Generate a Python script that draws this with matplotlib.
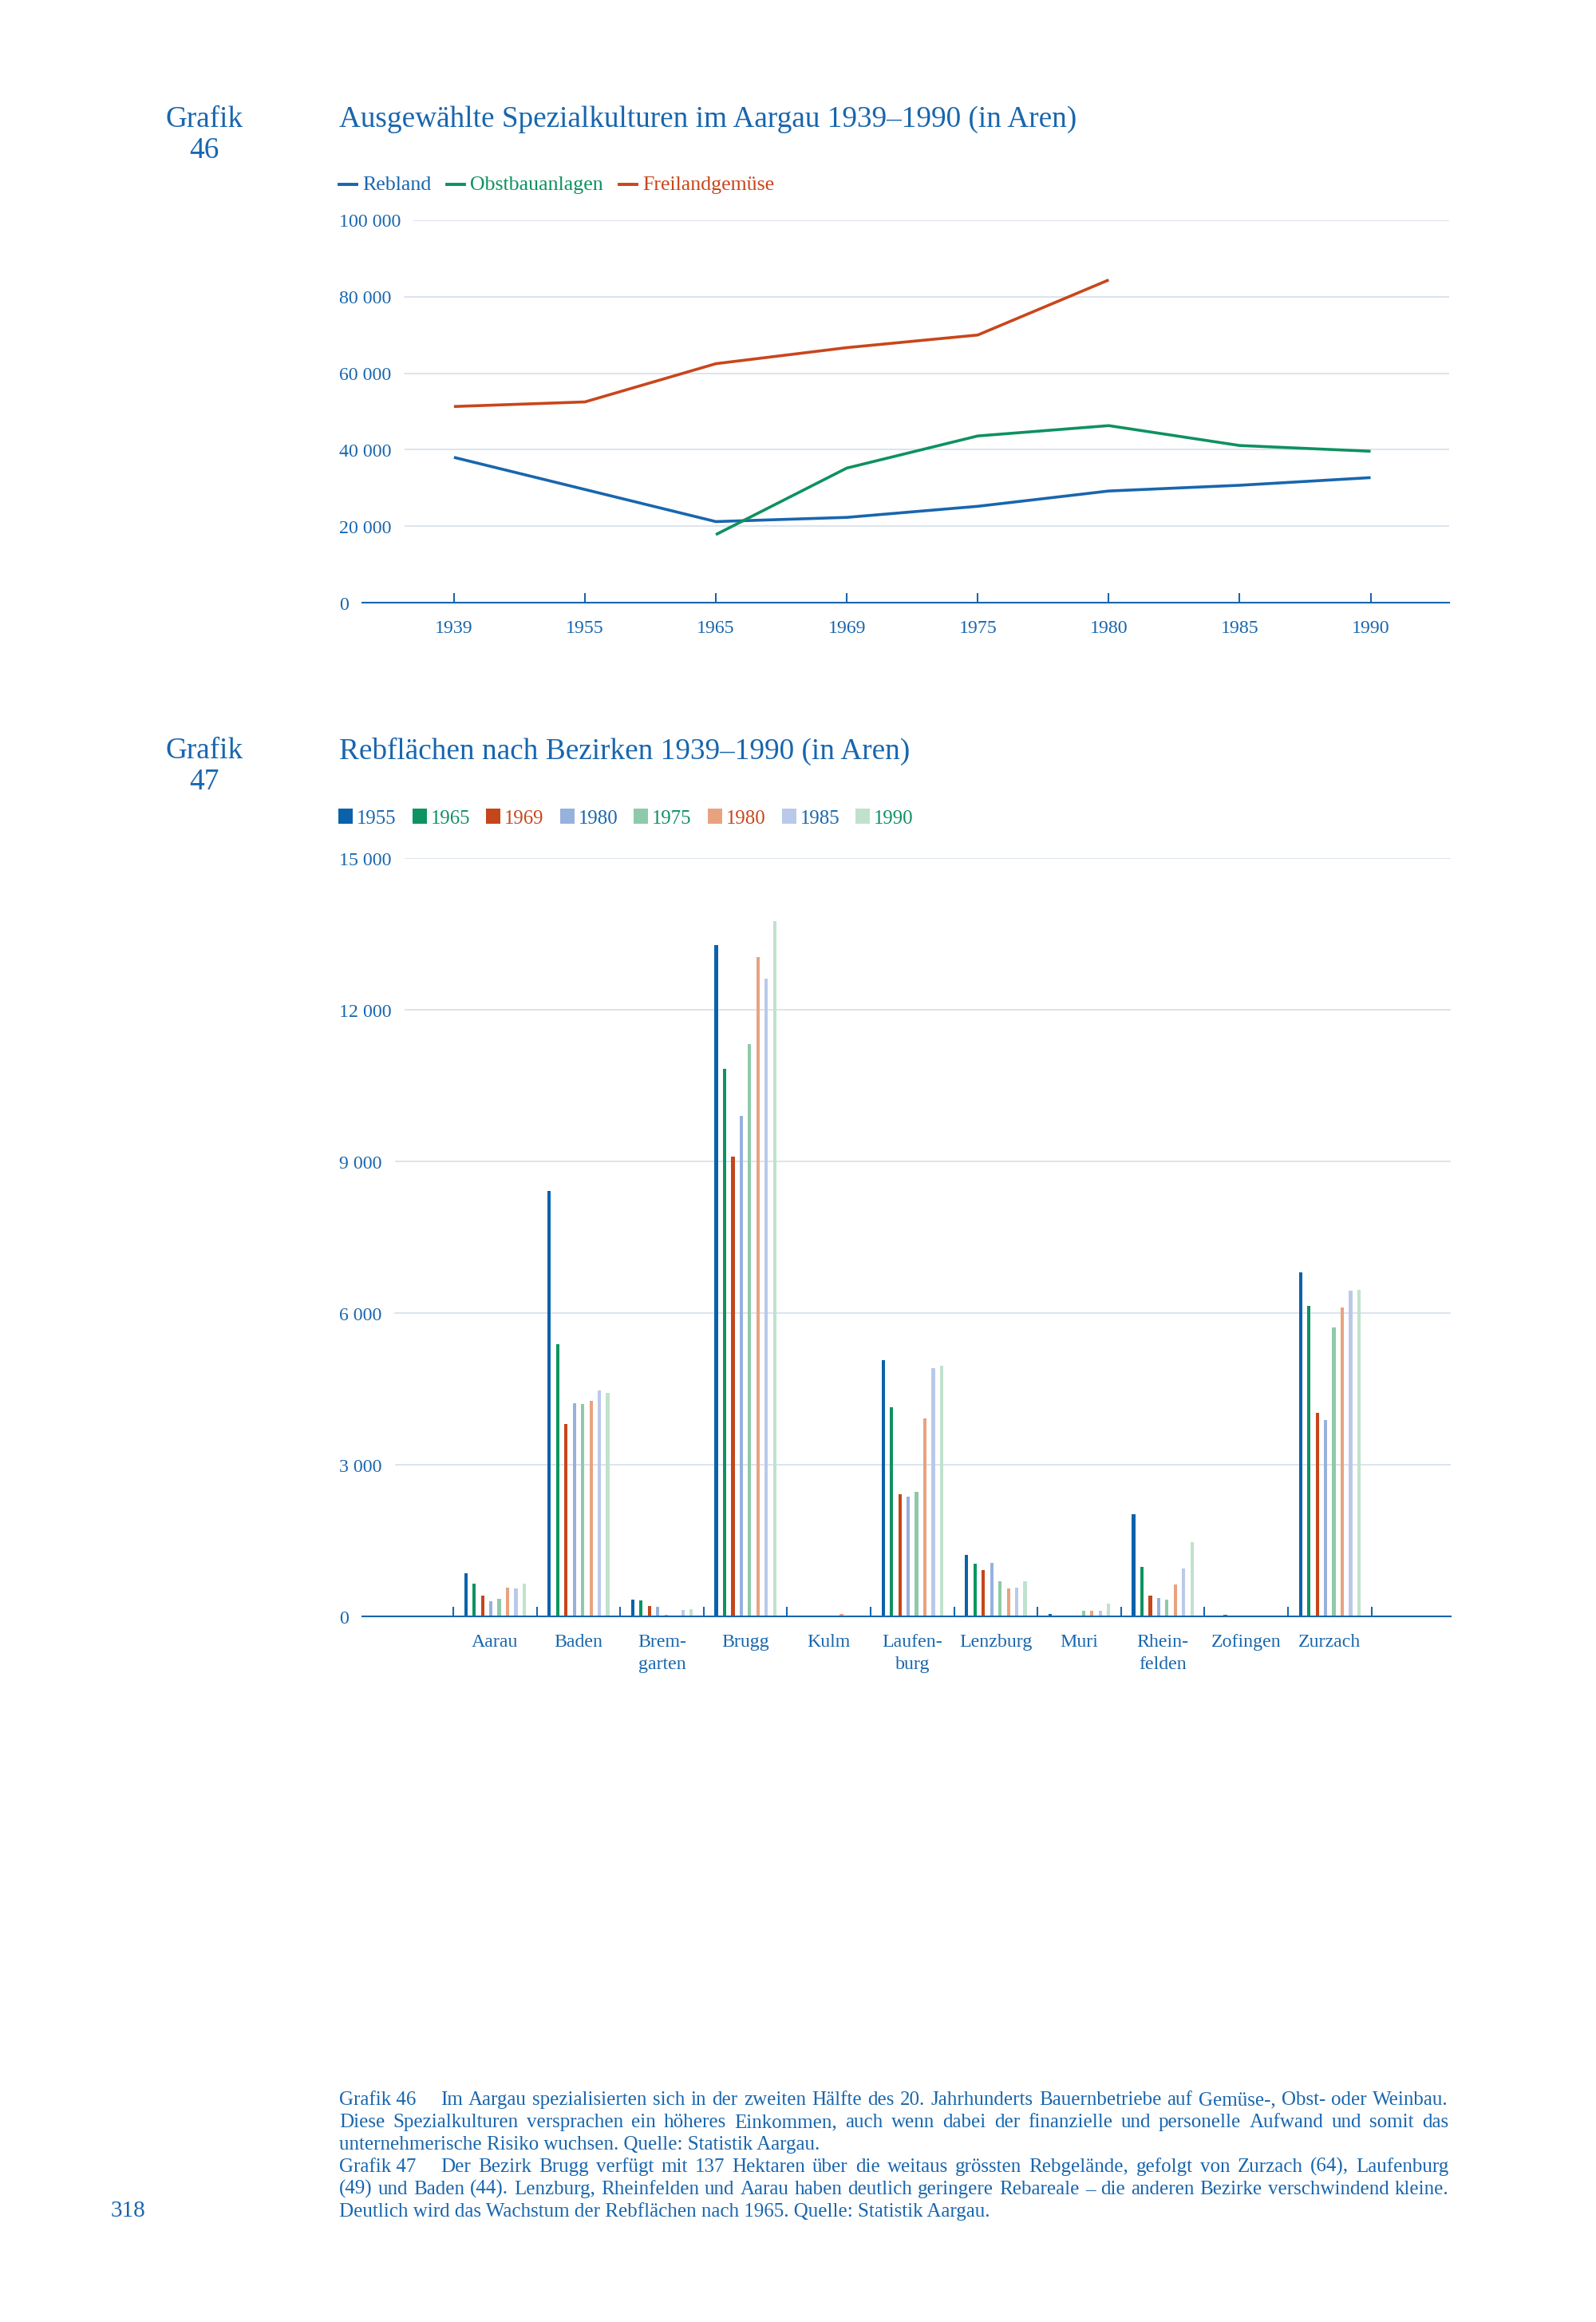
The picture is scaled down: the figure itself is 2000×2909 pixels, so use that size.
import matplotlib
matplotlib.use('Agg')
import matplotlib.pyplot as plt
import matplotlib.transforms as mtransforms
from matplotlib.font_manager import FontProperties
from matplotlib.lines import Line2D
from matplotlib.patches import Rectangle
import numpy as np

# ---------------- data ----------------
years_top = ['1939', '1955', '1965', '1969', '1975', '1980', '1985', '1990']
rebland = [38000, 29600, 21200, 22300, 25200, 29200, 30700, 32700]
obstbau = [np.nan, np.nan, 17800, 35200, 43600, 46300, 41100, 39600]
freiland = [51300, 52500, 62500, 66700, 70000, 84400, np.nan, np.nan]
top_series_names = ['Rebland', 'Obstbauanlagen', 'Freilandgemüse']
top_yticks = [0, 20000, 40000, 60000, 80000, 100000]
top_yticklabels = ['0', '20 000', '40 000', '60 000', '80 000', '100 000']

districts = ['Aarau', 'Baden', 'Brem-\ngarten', 'Brugg', 'Kulm', 'Laufen-\nburg',
             'Lenzburg', 'Muri', 'Rhein-\nfelden', 'Zofingen', 'Zurzach']
bar_labels = ['1955', '1965', '1969', '1980', '1975', '1980', '1985', '1990']
v1955 = [860, 8420, 330, 13280, 0, 5070, 1210, 50, 2020, 0, 6810]
v1965 = [640, 5390, 310, 10830, 5, 4140, 1050, 0, 980, 25, 6150]
v1969 = [410, 3800, 210, 9100, 0, 2420, 920, 0, 410, 0, 4030]
v1980a = [300, 4220, 190, 9900, 0, 2370, 1065, 0, 370, 10, 3880]
v1975 = [350, 4200, 25, 11320, 0, 2460, 700, 110, 330, 10, 5710]
v1980b = [570, 4270, 0, 13040, 45, 3910, 560, 110, 630, 10, 6110]
v1985 = [550, 4470, 120, 12610, 0, 4910, 575, 110, 940, 10, 6440]
v1990 = [640, 4420, 140, 13760, 0, 4960, 700, 260, 1470, 10, 6460]
bar_yticks = [0, 3000, 6000, 9000, 12000, 15000]
bar_yticklabels = ['0', '3 000', '6 000', '9 000', '12 000', '15 000']

caption_lines = [
    ("Grafik 46", "Im Aargau spezialisierten sich in der zweiten Hälfte des 20. Jahrhunderts Bauernbetriebe auf Gemüse-, Obst- oder Weinbau.", True),
    (None, "Diese Spezialkulturen versprachen ein höheres Einkommen, auch wenn dabei der finanzielle und personelle Aufwand und somit das", True),
    (None, "unternehmerische Risiko wuchsen. Quelle: Statistik Aargau.", False),
    ("Grafik 47", "Der Bezirk Brugg verfügt mit 137 Hektaren über die weitaus grössten Rebgelände, gefolgt von Zurzach (64), Laufenburg", True),
    (None, "(49) und Baden (44). Lenzburg, Rheinfelden und Aarau haben deutlich geringere Rebareale – die anderen Bezirke verschwindend kleine.", True),
    (None, "Deutlich wird das Wachstum der Rebflächen nach 1965. Quelle: Statistik Aargau.", False),
]

# ---------------- style ----------------
W, H = 2000, 2909
DPI = 200
FONT = 'Liberation Serif'
BLUE = '#1866ae'
GREEN = '#0e9160'
ORANGE = '#c9461b'
GRID = '#d6dfea'
bar_colors = ['#0b62ab', '#0d9460', '#c5461a', '#97b1dd', '#8ecaa9', '#e9a27f', '#bac9ea', '#c0e2cd']
bar_text_colors = [BLUE, GREEN, ORANGE, BLUE, GREEN, ORANGE, BLUE, GREEN]

TITLE_SIZE = 13.4
LEG_SIZE = 9.3
BLEG_SIZE = 8.9
TICK_SIZE = 8.6
CAP_SIZE = 9.0

fig = plt.figure(figsize=(W / DPI, H / DPI), dpi=DPI)
renderer = fig.canvas.get_renderer()


def fx(x):
    return x / W


def fy(y):
    return 1 - y / H


def text_w(s, size):
    fp = FontProperties(family=FONT, size=size)
    w, h, d = renderer.get_text_width_height_descent(s, fp, ismath=False)
    return w


def put(x, y, s, size, color=BLUE, ha='left', va='baseline'):
    return fig.text(fx(x), fy(y), s, fontsize=size, color=color, family=FONT, ha=ha, va=va)


def style_axes(ax, ticks, left_px, right_px, yticks, yticklabels, ymin, ymax):
    for s in ['top', 'right', 'left']:
        ax.spines[s].set_visible(False)
    ax.spines['bottom'].set_color(BLUE)
    ax.spines['bottom'].set_linewidth(0.75)
    ax.set_xticks(ticks)
    ax.set_xticklabels([])
    ax.tick_params(axis='x', direction='in', length=4.2, width=0.75, color=BLUE)
    ax.set_yticks([])
    ax.set_ylim(ymin, ymax)
    # y labels (left aligned at x=425) and gridlines starting after each label
    trans = mtransforms.blended_transform_factory(fig.transFigure, ax.transData)
    trans_lbl = mtransforms.offset_copy(trans, fig=fig, x=0, y=-8.5, units='dots')
    axw = right_px - left_px
    for v, lab in zip(yticks, yticklabels):
        fig.text(fx(425), v, lab, transform=trans_lbl, fontsize=TICK_SIZE, color=BLUE,
                 family=FONT, ha='left', va='baseline')
        if v != 0:
            start = 425 + text_w(lab, TICK_SIZE) + 17
            ax.axhline(v, xmin=(start - left_px) / axw, xmax=1, color=GRID, lw=0.6, zorder=0)


# ---------------- Grafik 46 (lines) ----------------
L1, R1 = 454, 1816
Y0_1, Y1_1 = 755, 276
ax1 = fig.add_axes([fx(L1), fy(Y0_1), (R1 - L1) / W, (Y0_1 - Y1_1) / H])
ax1.patch.set_alpha(0)
xpos = np.arange(len(years_top))
ax1.set_xlim(-0.70, 7.60)
style_axes(ax1, xpos, L1, R1, top_yticks, top_yticklabels, 0, 100000)
lw = 1.3
ax1.plot(xpos, rebland, color=BLUE, lw=lw, solid_capstyle='butt')
ax1.plot(xpos, obstbau, color=GREEN, lw=lw, solid_capstyle='butt')
ax1.plot(xpos, freiland, color=ORANGE, lw=lw, solid_capstyle='butt')
tr_x1 = mtransforms.blended_transform_factory(ax1.transData, fig.transFigure)
for i, y in enumerate(years_top):
    ax1.text(i, fy(793), y, transform=tr_x1, fontsize=TICK_SIZE, color=BLUE,
             family=FONT, ha='center', va='baseline')

put(256, 159, 'Grafik', TITLE_SIZE, ha='center')
put(256, 198, '46', TITLE_SIZE, ha='center')
put(425, 159, 'Ausgewählte Spezialkulturen im Aargau 1939–1990 (in Aren)', TITLE_SIZE)

# legend (top)
x = 425
for name, c in zip(top_series_names, [BLUE, GREEN, ORANGE]):
    fig.add_artist(Line2D([fx(x), fx(x + 22)], [fy(231), fy(231)], color=c, lw=1.4,
                          transform=fig.transFigure))
    put(x + 29, 238, name, LEG_SIZE, color=c)
    x = x + 29 + text_w(name, LEG_SIZE) + 20

# ---------------- Grafik 47 (bars) ----------------
L2, R2 = 454, 1818
Y0_2, Y1_2 = 2025, 1075
ax2 = fig.add_axes([fx(L2), fy(Y0_2), (R2 - L2) / W, (Y0_2 - Y1_2) / H])
ax2.patch.set_alpha(0)
ax2.set_xlim(-1.59, 11.45)
xb = np.arange(len(districts))
style_axes(ax2, np.arange(-0.5, len(districts) + 0.5, 1.0), L2, R2,
           bar_yticks, bar_yticklabels, 0, 15000)
series = [v1955, v1965, v1969, v1980a, v1975, v1980b, v1985, v1990]
for k, (vals, c) in enumerate(zip(series, bar_colors)):
    ax2.bar(xb + (k - 3.5) * 0.1, vals, width=0.04, color=c, linewidth=0, zorder=2)

tr_x2 = mtransforms.blended_transform_factory(ax2.transData, fig.transFigure)
for i, d in enumerate(districts):
    for j, part in enumerate(d.split('\n')):
        ax2.text(i, fy(2063 + 28 * j), part, transform=tr_x2, fontsize=TICK_SIZE, color=BLUE,
                 family=FONT, ha='center', va='baseline')

put(256, 950, 'Grafik', TITLE_SIZE, ha='center')
put(256, 989, '47', TITLE_SIZE, ha='center')
put(425, 951, 'Rebflächen nach Bezirken 1939–1990 (in Aren)', TITLE_SIZE)

# legend (bars)
x = 424
for lab, c, tc in zip(bar_labels, bar_colors, bar_text_colors):
    fig.add_artist(Rectangle((fx(x), fy(1032)), 18 / W, 19 / H, color=c, lw=0,
                             transform=fig.transFigure))
    put(x + 23, 1032, lab, BLEG_SIZE, color=tc)
    x = x + 23 + text_w(lab, BLEG_SIZE) + 20

# ---------------- caption ----------------
CL, CR = 425, 1815
base = 2637
for n, (prefix, txt, justify) in enumerate(caption_lines):
    y = base + 28 * n
    start = CL
    if prefix:
        put(CL, y, prefix, CAP_SIZE)
        start = 552
    if justify:
        words = txt.split(' ')
        ws = [text_w(w_, CAP_SIZE) for w_ in words]
        gap = (CR - start - sum(ws)) / (len(words) - 1)
        xx = start
        for w_, ww in zip(words, ws):
            put(xx, y, w_, CAP_SIZE)
            xx += ww + gap
    else:
        put(start, y, txt, CAP_SIZE)

put(139, 2777, '318', 10.5)

fig.savefig('out.png', dpi=DPI)
